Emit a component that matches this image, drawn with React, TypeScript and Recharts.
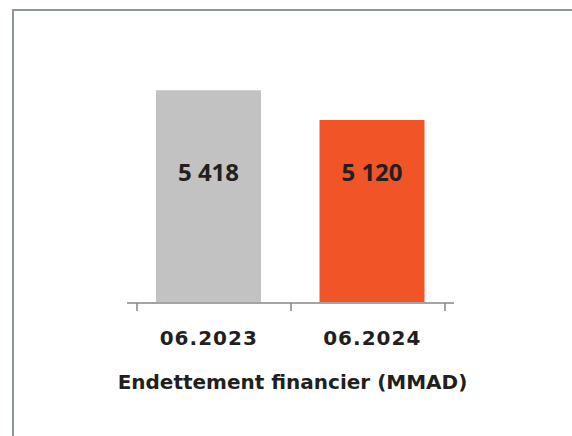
import React from "react";
import { BarChart, Bar, XAxis, YAxis, LabelList, Label, Cell } from "recharts";

const categories = ["06.2023", "06.2024"];
const values = [5418, 5120];
const barColors = ["#c1c2c1", "#f15527"];
const tickPositions = [0, 1, 2];
const title = "Endettement financier (MMAD)";

const data = categories.map((c, i) => ({ cat: c, value: values[i], pos: i }));

const fmt = (v: number) => String(v).replace(/\B(?=(\d{3})+(?!\d))/g, " ");

const WIDE_FONT = "'DejaVu Sans', sans-serif";
const VALUE_FONT = "'Noto Sans', sans-serif";
const TEXT = "#231f20";

const CatTick = (props: any) => {
  const { x, y, payload } = props;
  return (
    <text
      x={x}
      y={y}
      textAnchor="middle"
      fill={TEXT}
      fontFamily={WIDE_FONT}
      fontWeight={700}
      fontSize={20}
      letterSpacing={1}
    >
      {payload.value}
    </text>
  );
};

const EmptyTick = () => <g />;

export default function App() {
  return (
    <div style={{ position: "fixed", left: 0, top: 0, width: 572, height: 436, overflow: "hidden", background: "#fff" }}>
      <div
        style={{
          position: "absolute",
          left: 12,
          top: 9,
          width: 600,
          height: 500,
          borderTop: "2px solid #8c979a",
          borderLeft: "2px solid #8c979a",
        }}
      />
      <div style={{ position: "absolute", left: 0, top: 0 }}>
        <BarChart width={572} height={436} data={data} margin={{ top: 62, right: 118, bottom: 132, left: 127 }}>
          <YAxis hide domain={[3300, 5700]} allowDataOverflow />
          <XAxis
            xAxisId="t"
            dataKey="pos"
            type="number"
            domain={[0, 2]}
            ticks={tickPositions}
            padding={{ left: 10, right: 9 }}
            height={1}
            tick={<EmptyTick />}
            tickSize={8}
            axisLine={{ stroke: "#80878a", strokeWidth: 1.5 }}
            tickLine={{ stroke: "#80878a", strokeWidth: 1.5 }}
          />
          <XAxis
            xAxisId="c"
            dataKey="cat"
            height={1}
            axisLine={false}
            tickLine={false}
            tickSize={0}
            tickMargin={43}
            tick={<CatTick />}
            interval={0}
          >
            <Label
              value={title}
              position="bottom"
              offset={72}
              dx={2}
              fill={TEXT}
              fontFamily={WIDE_FONT}
              fontWeight={700}
              fontSize={20}
            />
          </XAxis>
          <Bar dataKey="value" xAxisId="c" barSize={105} isAnimationActive={false}>
            {data.map((d, i) => (
              <Cell key={d.cat} fill={barColors[i]} />
            ))}
            <LabelList
              dataKey="value"
              position="insideBottom"
              offset={121}
              formatter={(v: any) => fmt(Number(v))}
              fill={TEXT}
              fontFamily={VALUE_FONT}
              fontWeight={700}
              fontSize={24}
            />
          </Bar>
        </BarChart>
      </div>
    </div>
  );
}
